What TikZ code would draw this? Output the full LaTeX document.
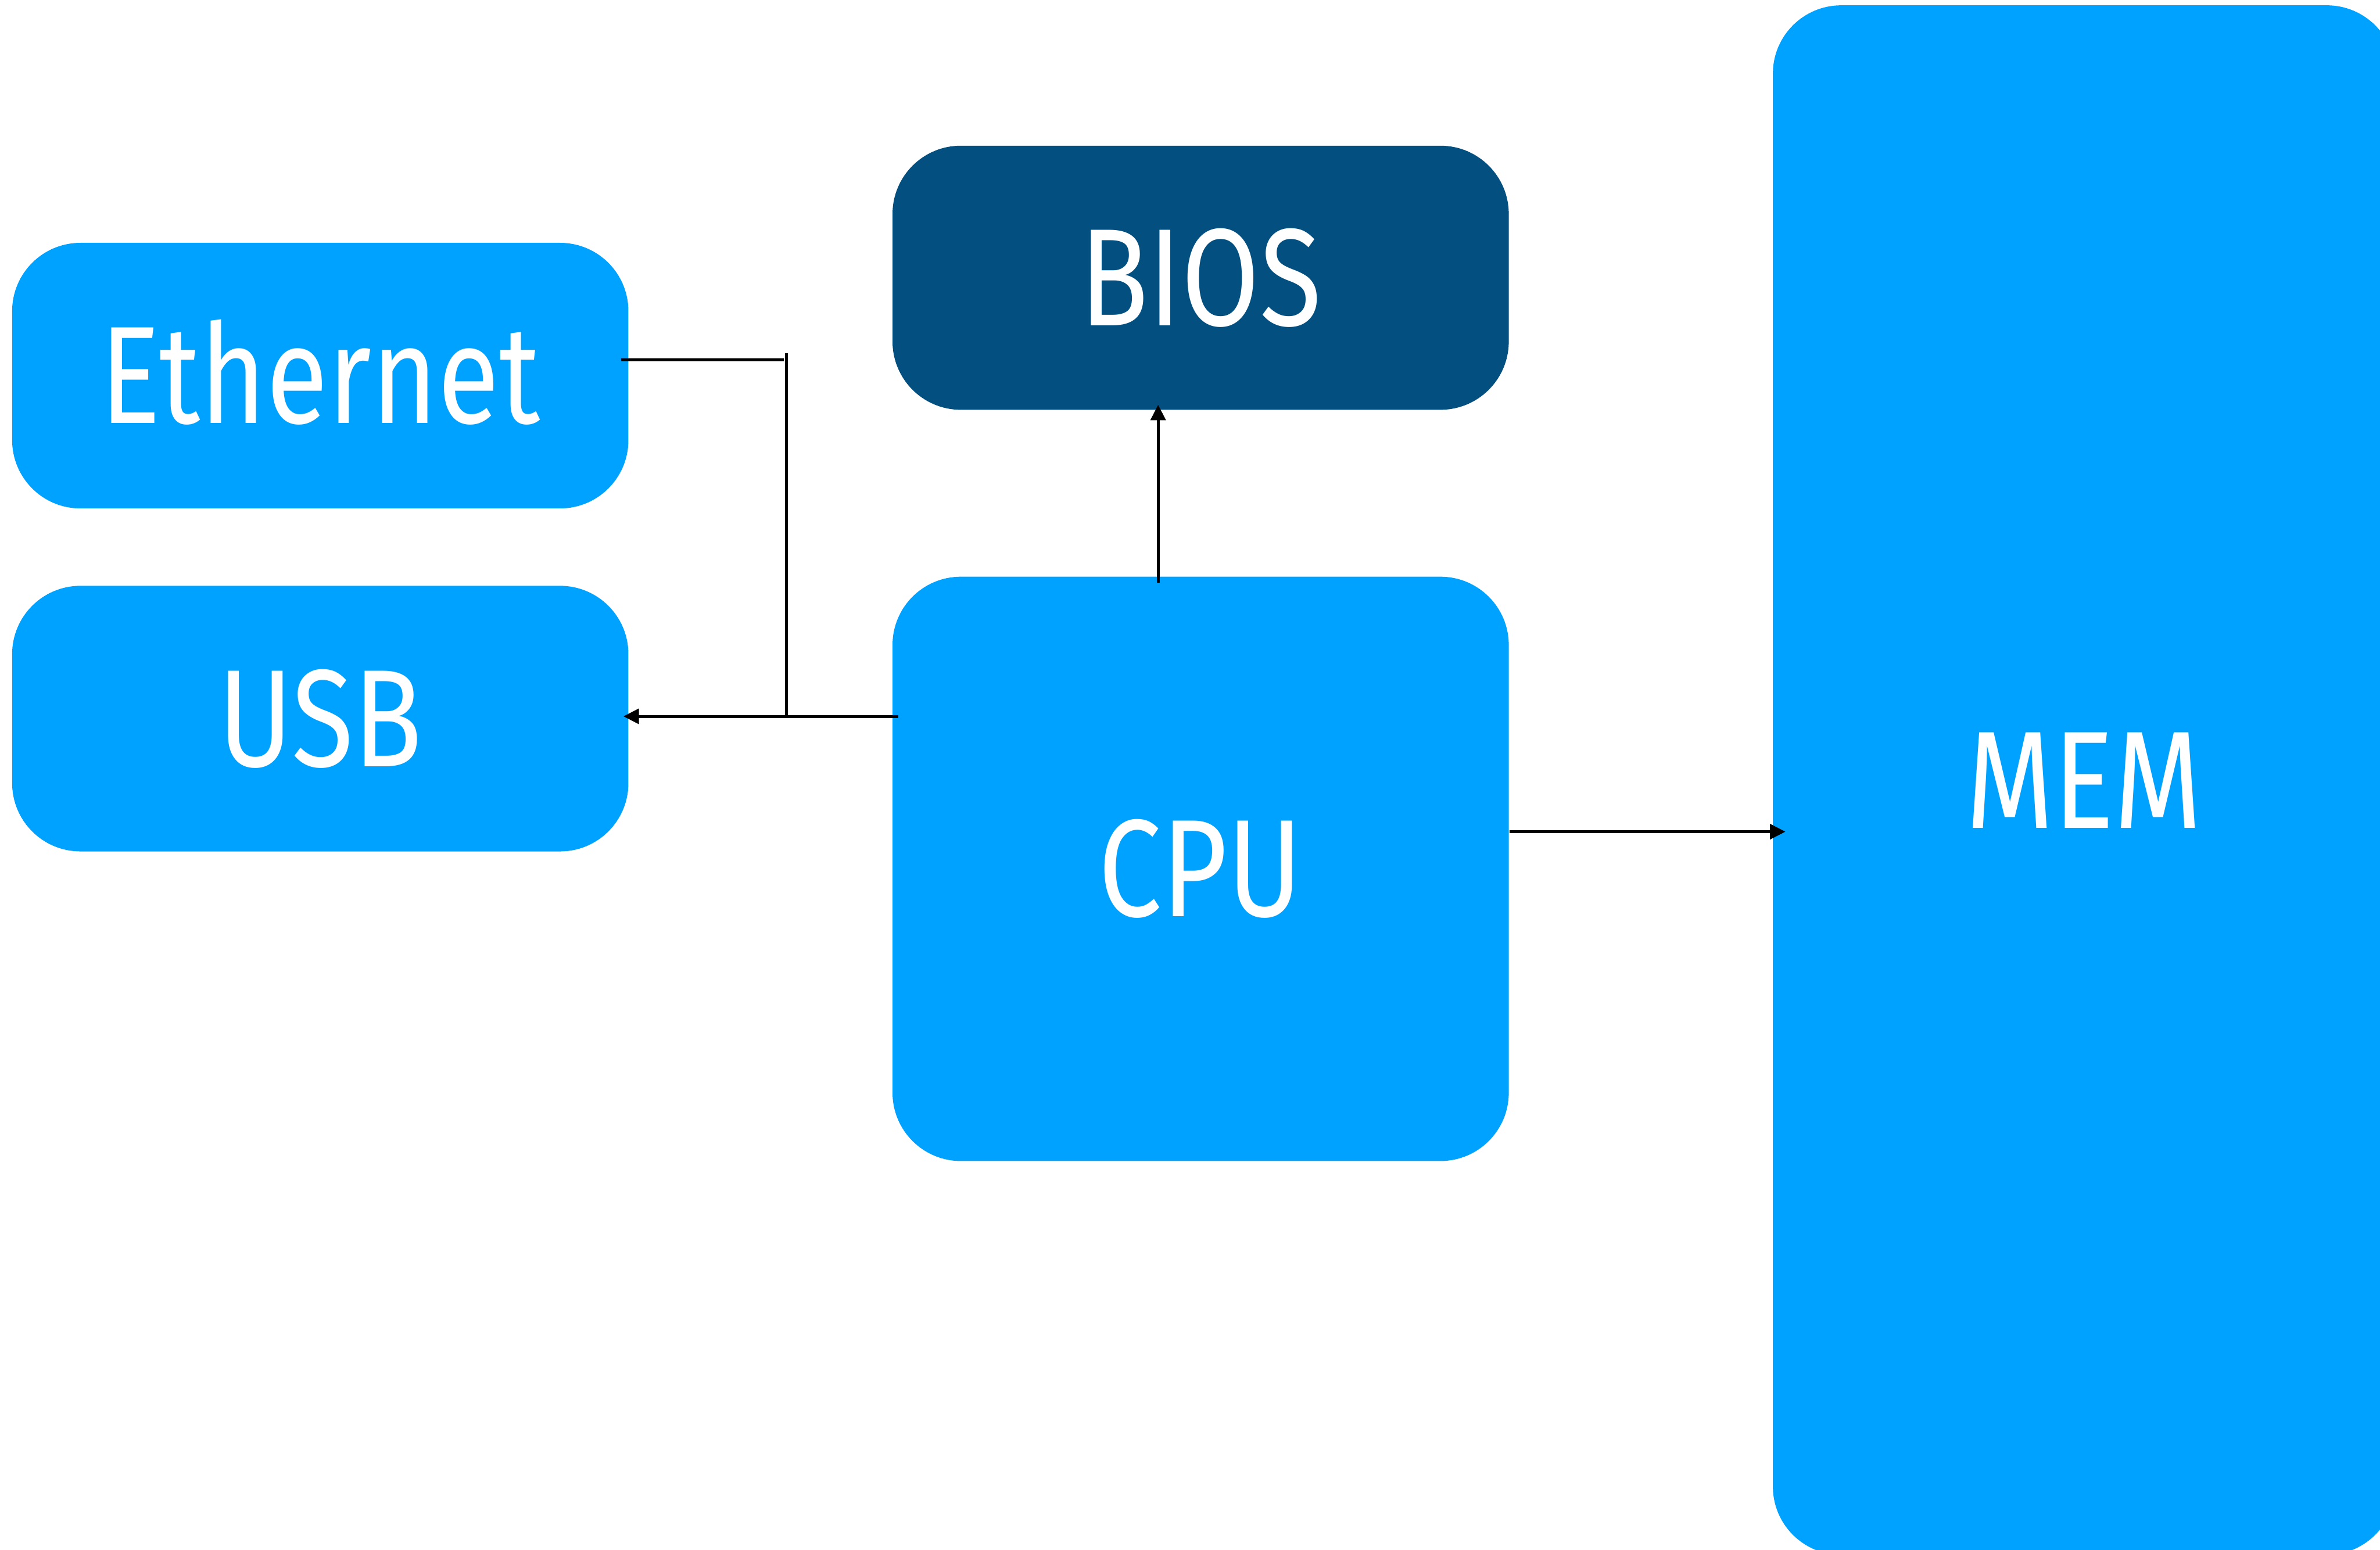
\documentclass[tikz,border=0pt]{standalone}
\usepackage{fontspec}
\setmainfont{Fira Sans}
\usepackage{graphicx}
\usetikzlibrary{arrows.meta}

\definecolor{lightblue}{HTML}{00A2FF}
\definecolor{darkblue}{HTML}{024F80}

\newcommand{\boxlabel}[1]{\scalebox{0.815}[1]{#1}}

\begin{document}
\begin{tikzpicture}[
		block/.style={rectangle, rounded corners=0.45cm, fill=lightblue, text=white, inner sep=0pt,
			minimum width=4.06cm, minimum height=1.75cm, text height=0.63cm, text depth=0pt,
			font=\fontsize{26}{30}\selectfont},
		wire/.style={line width=0.55pt},
		arrowline/.style={-{Triangle[length=2.9pt,width=2.8pt]}}
	]
				\useasboundingbox (0, 0) rectangle (15.68, -10.21);
				
				% Boxes
				\node[block] (eth) at (2.11, -2.475) {\boxlabel{Ethernet}};
				\node[block] (usb) at (2.11, -4.735) {\boxlabel{USB}};
				\node[block, fill=darkblue, minimum height=1.74cm] (bios) at (7.91, -1.83) {\boxlabel{BIOS}};
				\node[block, minimum height=3.85cm] (cpu) at (7.91, -5.725) {\boxlabel{CPU}};
				\node[block, minimum width=4.1cm, minimum height=10.21cm] (mem) at (13.73, -5.14) {\boxlabel{MEM}};
				
				% Bus between Ethernet, USB and CPU
				\coordinate (ethend) at (5.165, -2.37);
				\coordinate (jtop) at (5.183, -2.327);
				\coordinate (jbot) at (5.183, -4.72);
				
				\draw[wire] ([shift={(-0.055,0.105)}]eth.east) -- (ethend); % from Ethernet
				\draw[wire] (jtop) -- (jbot); % bus line
				\draw[wire] ([xshift=0.045cm]cpu.west |- jbot) -- (jbot); % from CPU
				\draw[wire, arrowline] (jbot) -- ([xshift=-0.04cm]usb.east |- jbot); % to USB
				
				% CPU to BIOS and MEM
				\draw[wire, arrowline] ([shift={(-0.28,-0.046)}]cpu.north) -- ([shift={(-0.28,0.04)}]bios.south);
				\draw[wire, arrowline] ([yshift=0.245cm]cpu.east) coordinate (cpuout) -- ([xshift=0.09cm]mem.west |- cpuout);
			\end{tikzpicture}
\end{document}
